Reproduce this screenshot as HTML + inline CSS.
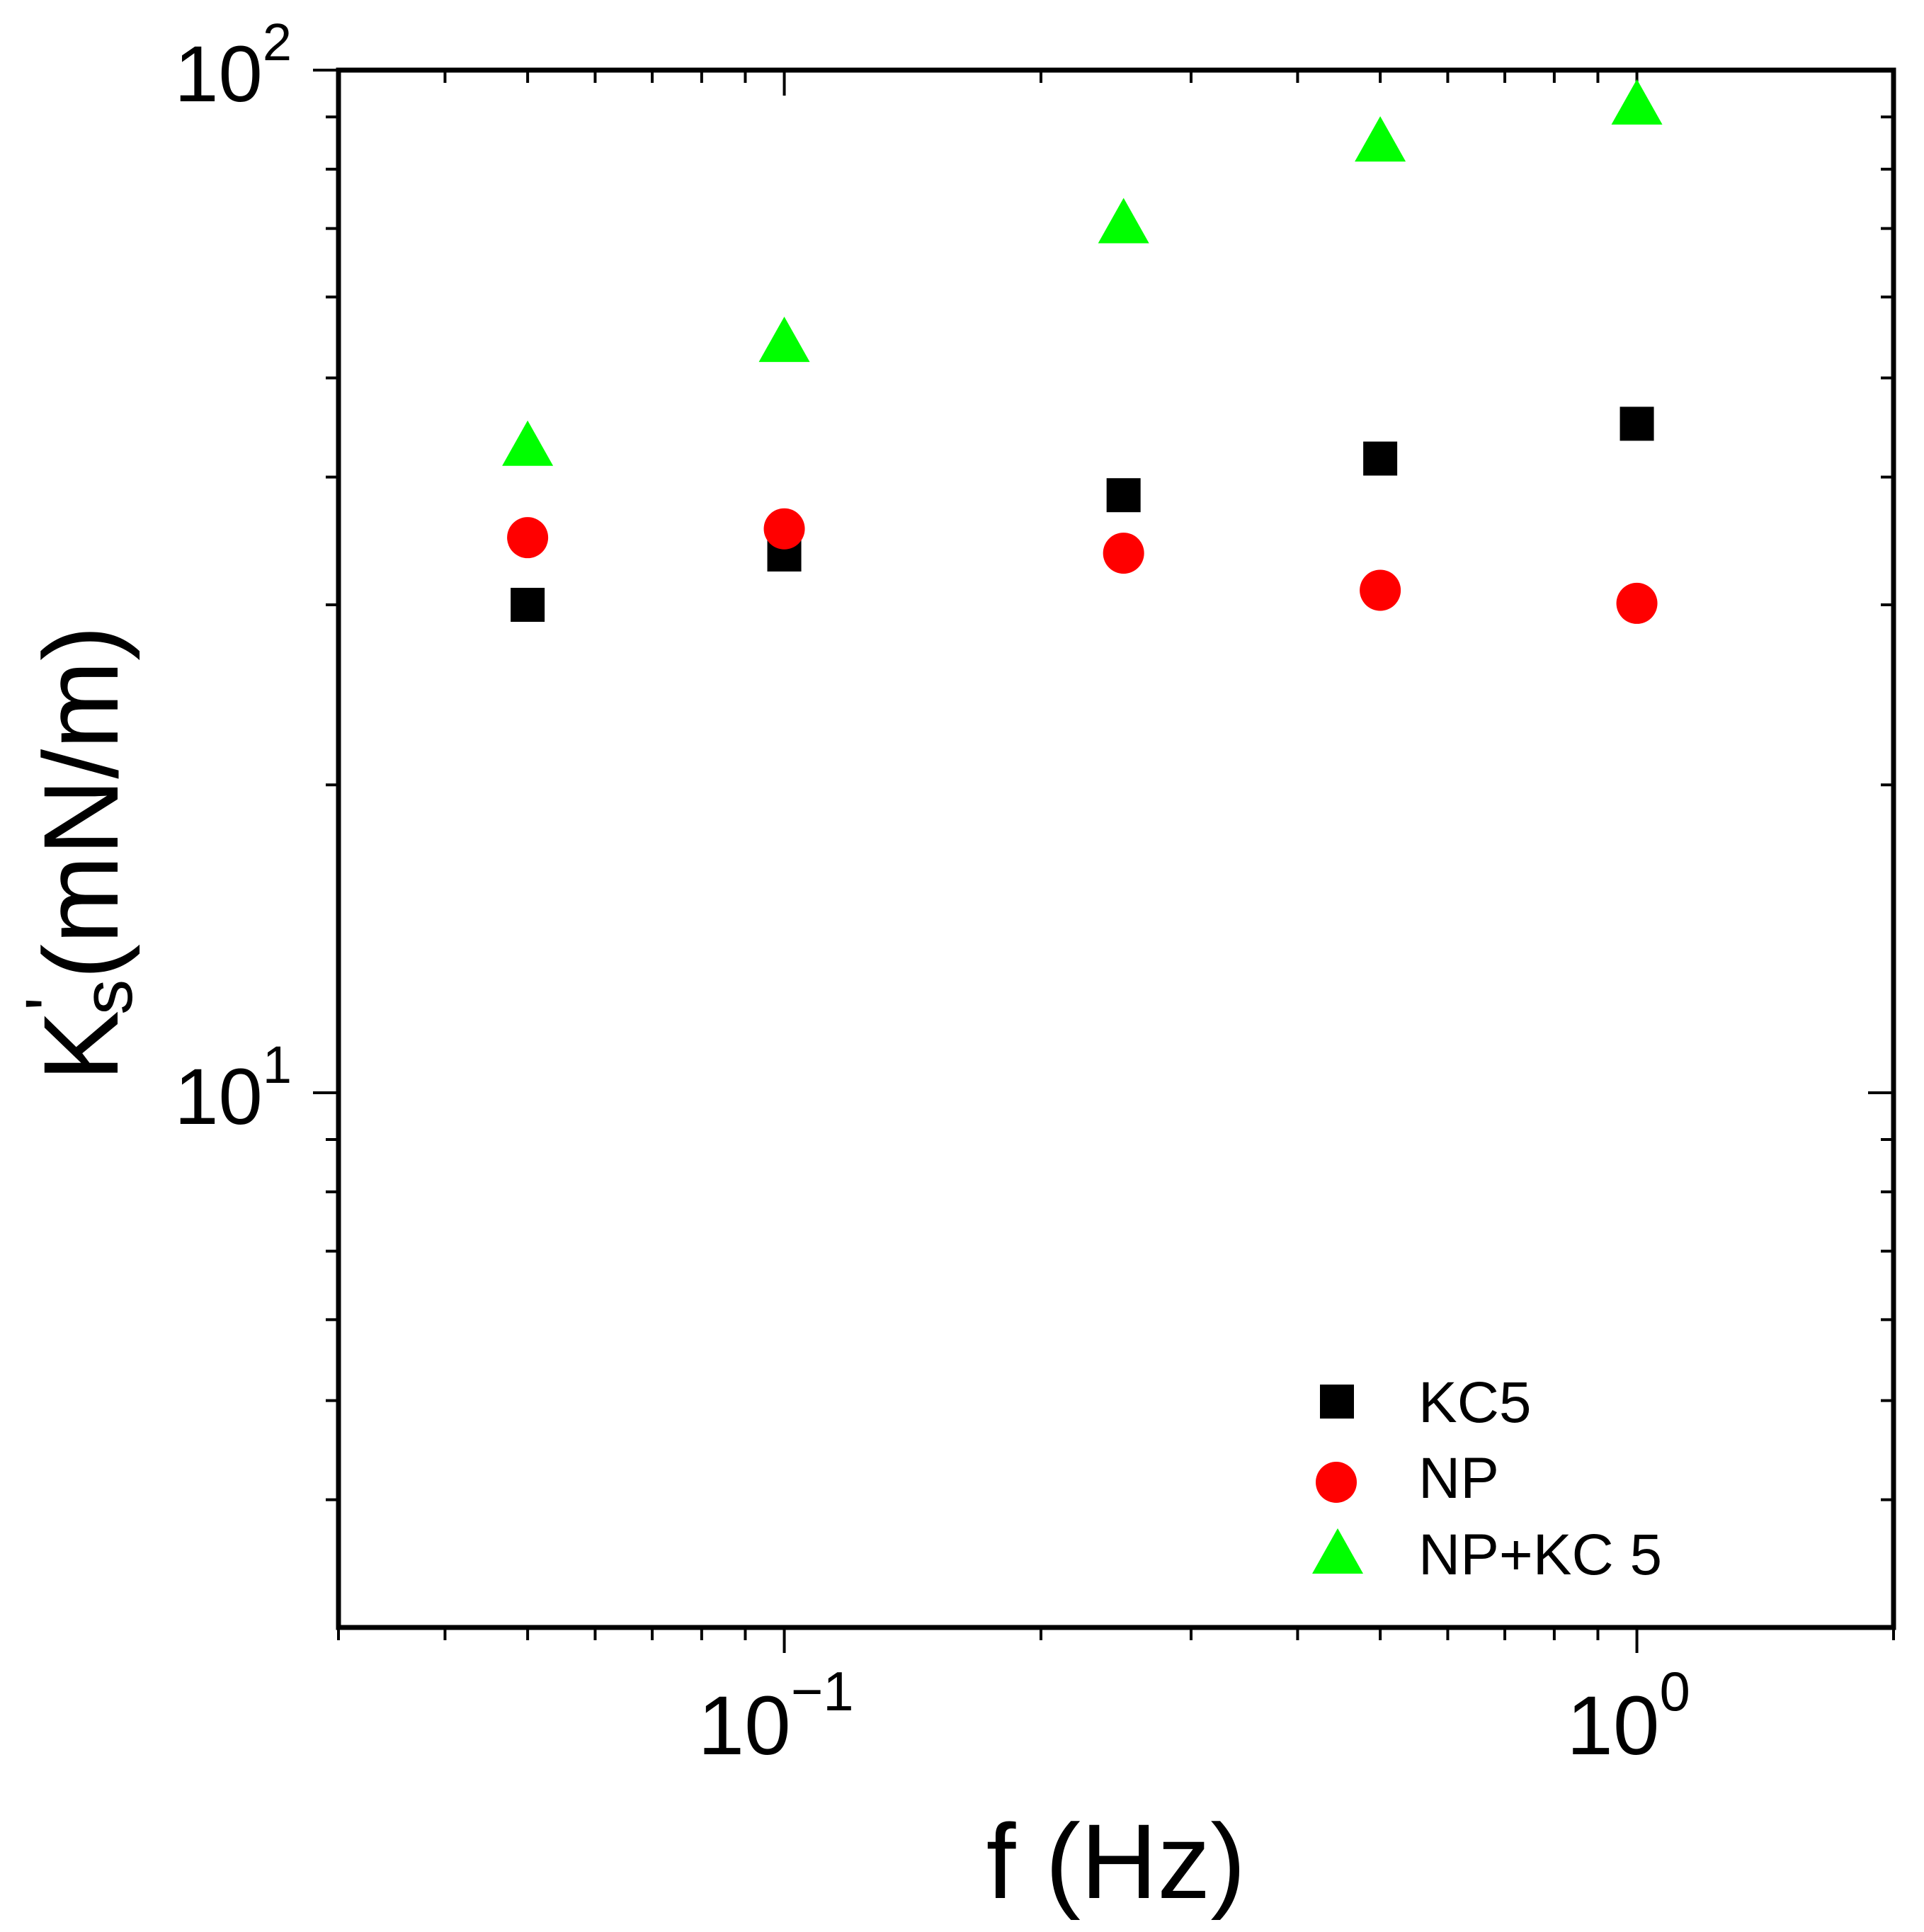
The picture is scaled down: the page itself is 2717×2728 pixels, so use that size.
<!DOCTYPE html>
<html><head><meta charset="utf-8"><style>
html,body{margin:0;padding:0;background:#fff;}
svg{display:block;font-family:"Liberation Sans",Arial,sans-serif;}
</style></head><body>
<svg id="chart" width="2717" height="2728" viewBox="0 0 2717 2728" xmlns="http://www.w3.org/2000/svg">
<rect width="2717" height="2728" fill="#fff"/>
<g id="plot"></g>
<text x="1576" y="2680" font-size="150" text-anchor="middle">f (Hz)</text>
<text transform="translate(166,1205) rotate(-90)" font-size="150" text-anchor="middle">K<tspan font-size="100" dy="-60">'</tspan><tspan font-size="100" dy="80" dx="-25">s</tspan><tspan dy="-20">(mN/m)</tspan></text>
<g>
<rect x="1864" y="1955" width="48" height="48" fill="#000"/>
<text x="2003" y="2008" font-size="82">KC5</text>
<circle cx="1887" cy="2093" r="29" fill="#ff0000"/>
<text x="2003" y="2115" font-size="82">NP</text>
<polygon points="1889,2158 1925,2222 1853,2222" fill="#00ff00"/>
<text x="2003" y="2223" font-size="82">NP+KC 5</text>
</g>
</svg>
<script>
const xValues=[0.05,0.1,0.25,0.5,1];
const kc5=[30.0,33.6,38.4,41.7,45.1];
const np=[34.9,35.6,33.7,31.0,30.1];
const npkc5=[42.9,54.2,70.8,85.1,92.5];
const xMajor=[0.1,1];
const xMajorLabels=["-1","0"];
const xMinor=[0.03,0.04,0.05,0.06,0.07,0.08,0.09,0.2,0.3,0.4,0.5,0.6,0.7,0.8,0.9,2];
const yMajor=[10,100];
const yMajorLabels=["1","2"];
const yMinor=[4,5,6,7,8,9,20,30,40,50,60,70,80,90];

const L=478,R=2674,T=99,B=2298;
const xmin=0.03,xmax=2,ymin=3,ymax=100;
function X(v){return L+(Math.log10(v)-Math.log10(xmin))/(Math.log10(xmax)-Math.log10(xmin))*(R-L);}
function Y(v){return B-(Math.log10(v)-Math.log10(ymin))/(Math.log10(ymax)-Math.log10(ymin))*(B-T);}
const NS="http://www.w3.org/2000/svg";
const g=document.getElementById('plot');
function mk(tag,attrs){const e=document.createElementNS(NS,tag);for(const k in attrs)e.setAttribute(k,attrs[k]);g.appendChild(e);return e;}
function line(x1,y1,x2,y2,w){return mk('line',{x1:x1,y1:y1,x2:x2,y2:y2,stroke:'#000','stroke-width':w});}

let fr=mk('rect',{x:L,y:T,width:R-L,height:B-T,fill:'none',stroke:'#000','stroke-width':7});



xMajor.forEach((v,i)=>{
 const x=X(v);
 let t=line(x,B,x,B+36,4);
 
 
 let t2=line(x,T,x,T+36,4);
 
 
 const lb=mk('text',{x:x-12,y:2477,'font-size':118,'text-anchor':'middle'});
 lb.textContent='10';
 const sp=document.createElementNS(NS,'tspan');
 sp.setAttribute('font-size','78');sp.setAttribute('dy','-62');
 sp.textContent=xMajorLabels[i].replace('-','\u2212');
 lb.appendChild(sp);
 
 
});
xMinor.forEach(v=>{
 const x=X(v);
 let t=line(x,B,x,B+18,4);
 
 
 let t2=line(x,T,x,T+18,4);
 
 
});
yMajor.forEach((v,i)=>{
 const y=Y(v);
 let t=line(L-36,y,L,y,4);
 
 
 let t2=line(R-36,y,R,y,4);
 
 
 const lb=mk('text',{x:412,y:y+44,'font-size':112,'text-anchor':'end'});
 lb.textContent='10';
 const sp=document.createElementNS(NS,'tspan');
 sp.setAttribute('font-size','74');sp.setAttribute('dy','-58');
 sp.textContent=yMajorLabels[i];
 lb.appendChild(sp);
 
 
});
yMinor.forEach(v=>{
 const y=Y(v);
 let t=line(L-18,y,L,y,4);
 
 
 let t2=line(R-18,y,R,y,4);
 
 
});
xValues.forEach((v,i)=>{
 const x=X(v);
 let s=mk('rect',{x:x-24,y:Y(kc5[i])-24,width:48,height:48,fill:'#000'});
 
 
});
xValues.forEach((v,i)=>{
 let c=mk('circle',{cx:X(v),cy:Y(np[i]),r:29,fill:'#ff0000'});
 
 
});
xValues.forEach((v,i)=>{
 const x=X(v),y=Y(npkc5[i]);
 let p=mk('polygon',{points:`${x},${y-36} ${x+36},${y+28} ${x-36},${y+28}`,fill:'#00ff00'});
 
 
});
</script>
</body></html>
